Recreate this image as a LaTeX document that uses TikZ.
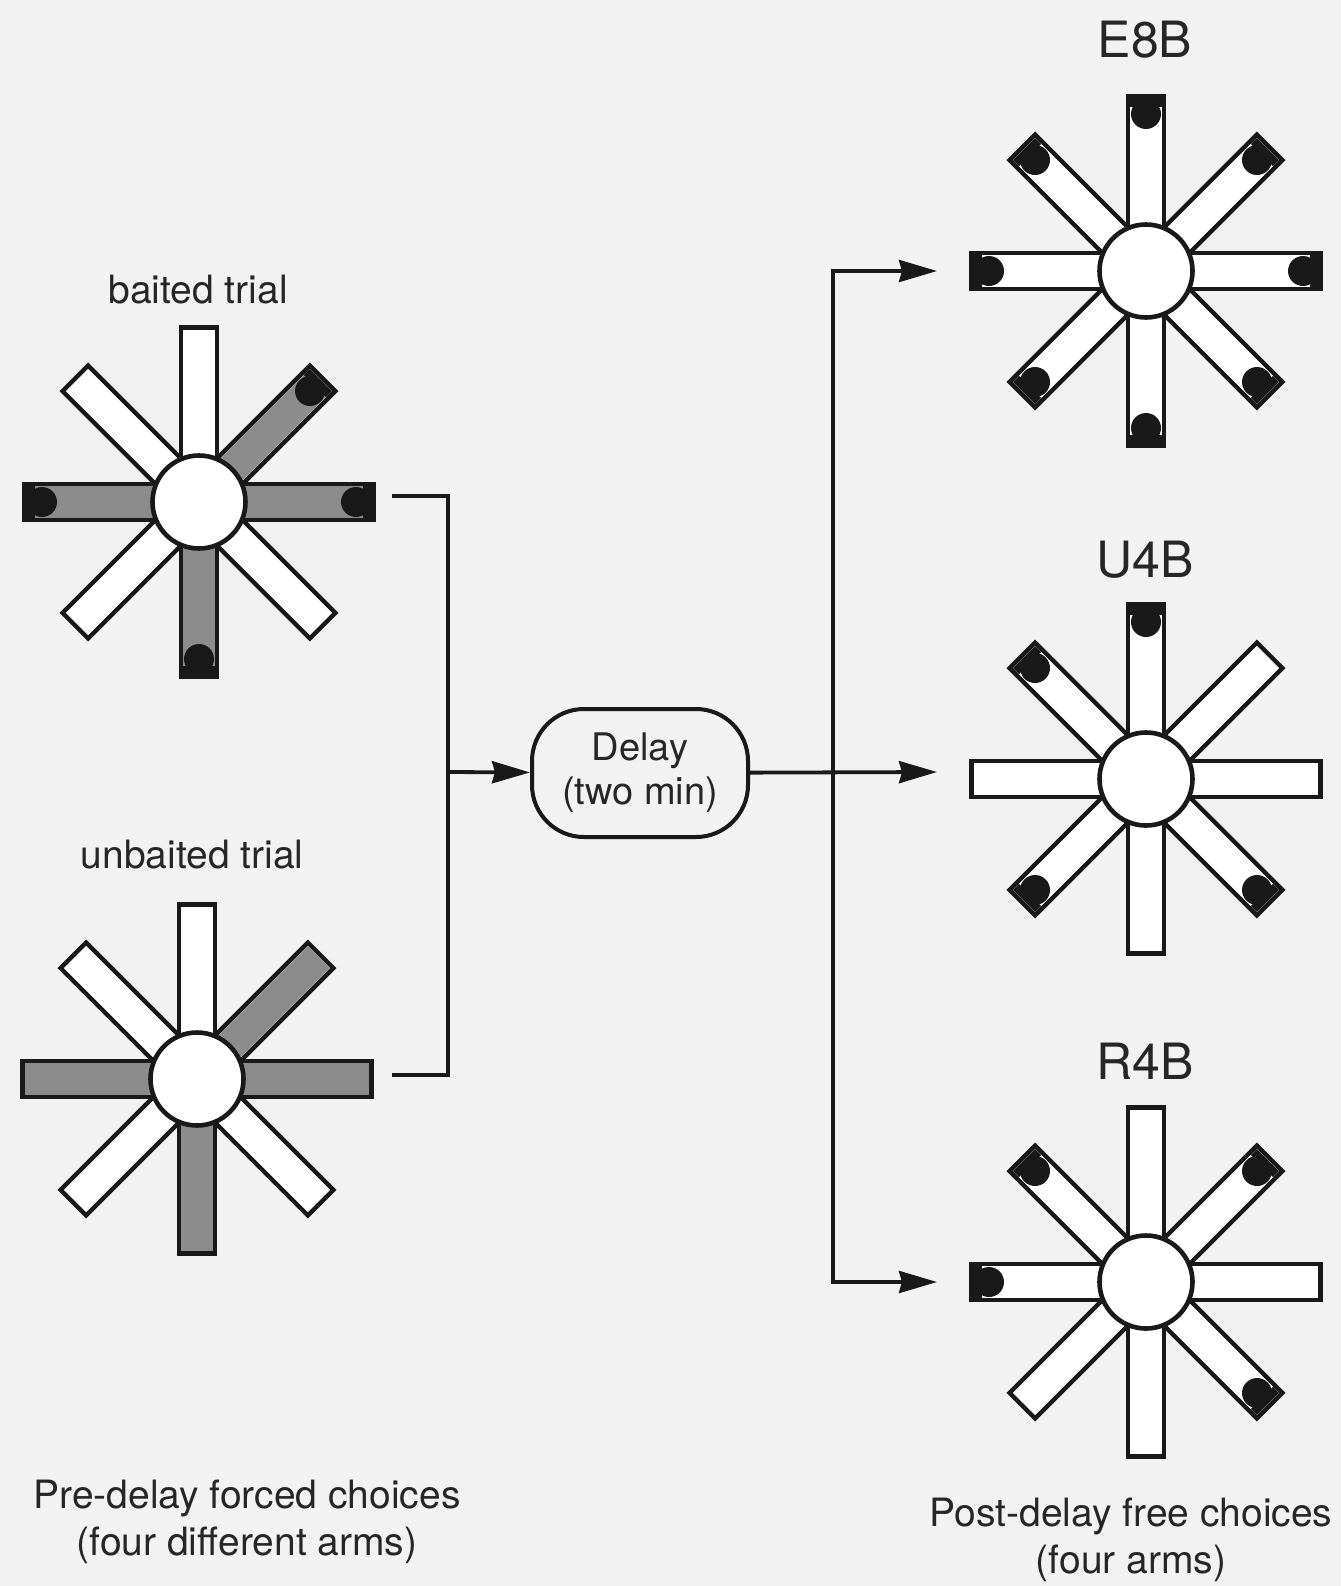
\documentclass[tikz,border=0pt]{standalone}
\usepackage{fontspec}
\setmainfont{TeX Gyre Heros}
\usetikzlibrary{arrows.meta,positioning}
\tikzset{
    %Define standard arrow tip
    >={Stealth[length=19pt,width=11pt,inset=1.5pt]},
    %Define styles for the maze
    armedge/.style={
           draw=black!90, line width=2.3pt,
           fill=white},
    stipple/.style={
           fill=black!45},
    pellet/.style={
           fill=black!90},
    hub/.style={
           circle,
           draw=black!90, line width=2.3pt,
           fill=white,
           minimum size=46.5pt,
           inner sep=0pt},
    %Define style for the delay box
    delaybox/.style={
           rectangle,
           rounded corners=26pt,
           draw=black!90, line width=2pt,
           minimum width=108pt,
           minimum height=64pt,
           align=center,
           text=black!85,
           font=\fontsize{19}{22}\selectfont},
    caption/.style={
           align=center,
           text=black!85,
           font=\fontsize{19.5}{23.5}\selectfont},
    mazename/.style={
           text=black!85,
           font=\fontsize{25}{30}\selectfont},
    % Define arrow style
    link/.style={
           line width=1.9pt,
           draw=black!90},
    pil/.style={
           ->,
           link}
}

% radial maze: name, centre, shaded arms, baited arms
\newcommand{\radialmaze}[4]{%
  \begin{scope}[shift={#2}]
    \foreach \a in {0,45,...,315}
      \draw[armedge, rotate=\a] (0,-18) rectangle (174.7,18);
    \foreach \a in {0,45,...,315}
      \fill[white, rotate=\a] (0,-15.7) rectangle (172.4,15.7);
    \foreach \a in {#3}{%
      \ifx\a\empty\else
        \fill[stipple, rotate=\a] (0,-15.7) rectangle (172.4,15.7);
      \fi}
    \foreach \a in {#4}{%
      \ifx\a\empty\else
        \fill[pellet, rotate=\a] (164,-15.7) rectangle (172.4,15.7);
        \fill[pellet, rotate=\a] (157,0) circle (15);
      \fi}
    \node[hub] (#1) at (0,0) {};
  \end{scope}}

\begin{document}
\begin{tikzpicture}[x=0.5pt,y=-0.5pt]
\fill[black!5] (0,0) rectangle (1341,1586);
\useasboundingbox (0,0) rectangle (1341,1586);

 %mazes
\radialmaze{baited}{(199,502)}{0,45,180,270}{0,45,180,270}
\radialmaze{unbaited}{(197,1079)}{0,45,180,270}{}
\radialmaze{e8b}{(1146,271)}{}{0,45,...,315}
\radialmaze{u4b}{(1146,779)}{}{90,135,225,315}
\radialmaze{r4b}{(1146,1282)}{}{45,135,180,315}

 %labels
\node[caption, anchor=base] (lbait) at (198,303) {baited trial};
\node[caption, anchor=base] (lunbait) at (192,868) {unbaited trial};
\node[mazename, anchor=base] (le8b) at (1145,57) {E8B};
\node[mazename, anchor=base] (lu4b) at (1145,577) {U4B};
\node[mazename, anchor=base] (lr4b) at (1145,1079) {R4B};
\node[caption, anchor=base] (pre) at (247,1555)
  {Pre-delay forced choices\\(four different arms)};
\node[caption, anchor=base] (post) at (1131,1573)
  {Post-delay free choices\\(four arms)};

 %delay
\node[delaybox] (delay) at (640,773) {Delay\\(two min)};

 %connectors
\coordinate (bt) at (392,496);
\coordinate (bb) at (392,1075);
\coordinate (bj) at (448,772);
\coordinate (sp) at (833,772);
\coordinate (in1) at (937,271);
\coordinate (in2) at (937,772);
\coordinate (in3) at (937,1282);
\draw[link] (bt) -- (bt -| bj) -- (bb -| bj) -- (bb);
\draw[pil] (bj) -- (delay);
\draw[pil] (delay) -- (in2);
\draw[pil] (sp) |- (in1);
\draw[pil] (sp) |- (in3);
\end{tikzpicture}
\end{document}
